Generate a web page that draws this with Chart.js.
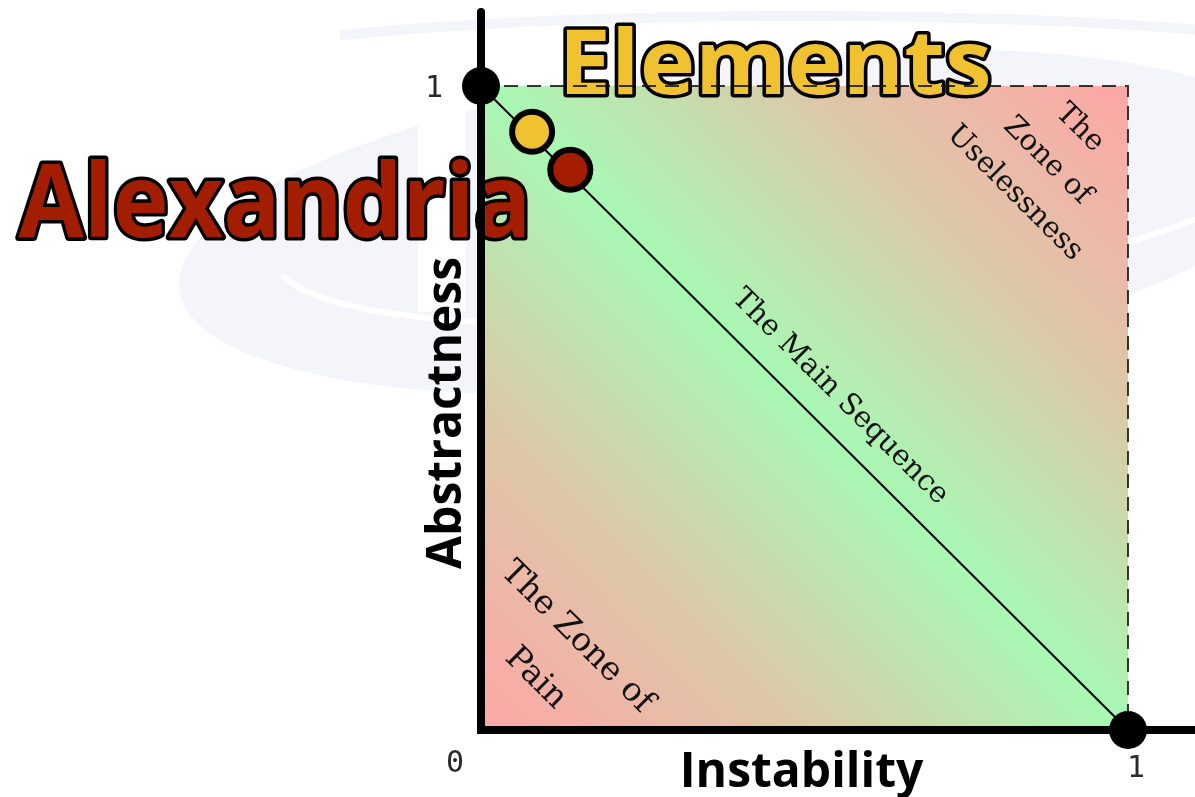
<!DOCTYPE html>
<html>
<head>
<meta charset="utf-8">
<script src="https://cdn.jsdelivr.net/npm/chart.js@4.4.1/dist/chart.umd.min.js"></script>
<style>
  html, body { margin: 0; padding: 0; background: #ffffff; }
  #wrap { width: 1195px; height: 797px; position: relative; }
</style>
</head>
<body>
<div id="wrap"><canvas id="c" width="1195" height="797"></canvas></div>
<script>
// ---- data ----
const categories = ['Elements', 'Alexandria'];
const instability = [0.079, 0.138];
const abstractness = [0.929, 0.870];
const pointColors = ['#f0c232', '#a31d00'];
const mainSequenceX = [0, 1];
const mainSequenceY = [1, 0];
const tickLabels = ['0', '1'];
const axisTitles = ['Instability', 'Abstractness'];
const zoneLabels = [
  { lines: ['The Main Sequence'], at: [0.555, 0.517] },
  { lines: ['The Zone of', 'Pain'], at: [0.116, 0.112] },
  { lines: ['The', 'Zone of', 'Uselessness'], at: [0.875, 0.884] }
];

const decor = {
  id: 'decor',
  beforeDatasetsDraw(chart) {
    const ctx = chart.ctx;
    const xs = chart.scales.x, ys = chart.scales.y;
    const x0 = xs.getPixelForValue(0), x1 = xs.getPixelForValue(1);
    const y0 = ys.getPixelForValue(0), y1 = ys.getPixelForValue(1);
    ctx.save();
    // faint watermark
    ctx.fillStyle = '#f4f5fa';
    ctx.beginPath();
    ctx.ellipse(740, 222, 565, 160, -0.12, 0, Math.PI * 2);
    ctx.fill();
    ctx.strokeStyle = '#ffffff';
    ctx.lineWidth = 6;
    ctx.beginPath();
    ctx.ellipse(790, 196, 520, 112, -0.12, Math.PI * 0.12, Math.PI * 0.95);
    ctx.stroke();
    ctx.strokeStyle = '#f4f5fa';
    ctx.lineWidth = 10;
    ctx.beginPath();
    ctx.ellipse(800, 82, 650, 66, 0, Math.PI * 1.25, Math.PI * 1.95);
    ctx.stroke();
    ctx.fillStyle = '#ffffff';
    ctx.fillRect(418, 112, 48, 200);

    // gradient background
    const g = ctx.createLinearGradient(x0, y0, x1, y1);
    g.addColorStop(0, '#ffa6a6');
    g.addColorStop(0.25, '#dcc8a8');
    g.addColorStop(0.5, '#a8f8b4');
    g.addColorStop(0.75, '#dcc8a8');
    g.addColorStop(1, '#ffa6a6');
    ctx.fillStyle = g;
    ctx.fillRect(x0, y1, x1 - x0, y0 - y1);

    // zone labels
    const ang = Math.atan2(y0 - y1, x1 - x0);
    ctx.fillStyle = '#111';
    ctx.textAlign = 'center';
    ctx.textBaseline = 'middle';
    const spacing = [0, 58, 46];
    const sizes = [29, 33, 29];
    zoneLabels.forEach((z, k) => {
      const cx = xs.getPixelForValue(z.at[0]), cy = ys.getPixelForValue(z.at[1]);
      ctx.save();
      ctx.font = sizes[k] + 'px "DejaVu Serif"';
      ctx.translate(cx, cy);
      ctx.rotate(ang);
      const n = z.lines.length;
      z.lines.forEach((t, i) => {
        ctx.fillText(t, 0, (i - (n - 1) / 2) * spacing[k]);
      });
      ctx.restore();
    });

    // big labels
    function bigText(txt, left, right, base, size, fill) {
      ctx.save();
      ctx.font = 'bold ' + size + 'px "Open Sans"';
      ctx.textAlign = 'left';
      ctx.textBaseline = 'alphabetic';
      const w = ctx.measureText(txt).width;
      const sx = (right - left - 7) / w;
      ctx.translate(left + 3.5, base);
      ctx.scale(sx, 1);
      ctx.lineJoin = 'round';
      ctx.lineWidth = 7;
      ctx.strokeStyle = '#000';
      ctx.strokeText(txt, 0, 0);
      ctx.fillStyle = fill;
      ctx.fillText(txt, 0, 0);
      ctx.restore();
    }
    bigText(categories[0], 555, 995, 94, 90, pointColors[0]);
    bigText(categories[1], 15, 535, 237, 102, pointColors[1]);

    // dashed bounds (drawn over the labels, as in the reference)
    ctx.strokeStyle = 'rgba(20,20,20,0.85)';
    ctx.lineWidth = 2;
    ctx.setLineDash([14, 9]);
    ctx.beginPath();
    ctx.moveTo(x0, y1); ctx.lineTo(x1, y1); ctx.lineTo(x1, y0);
    ctx.stroke();
    ctx.setLineDash([]);

    // axes
    ctx.strokeStyle = '#000';
    ctx.lineWidth = 8;
    ctx.lineCap = 'round';
    ctx.beginPath();
    ctx.moveTo(x0, 12); ctx.lineTo(x0, y0);
    ctx.stroke();
    ctx.lineCap = 'butt';
    ctx.beginPath();
    ctx.moveTo(x0 - 4, y0); ctx.lineTo(1195, y0);
    ctx.stroke();

    // tick labels
    ctx.fillStyle = '#2a2a2a';
    ctx.font = '30px "DejaVu Sans Mono"';
    ctx.textAlign = 'center';
    ctx.textBaseline = 'middle';
    ctx.fillText(tickLabels[1], x0 - 47, y1 + 3);
    ctx.fillText(tickLabels[0], x0 - 26, y0 + 34);
    ctx.fillText(tickLabels[1], x1 + 8, y0 + 39);

    // axis titles
    ctx.fillStyle = '#000';
    ctx.font = 'bold 48px "Open Sans"';
    ctx.textBaseline = 'alphabetic';
    ctx.fillText(axisTitles[0], (x0 + x1) / 2 - 3, 787);
    ctx.save();
    ctx.translate(461, (y0 + y1) / 2 + 5);
    ctx.rotate(-Math.PI / 2);
    ctx.fillText(axisTitles[1], 0, 0);
    ctx.restore();
    ctx.restore();
  }
};

new Chart(document.getElementById('c'), {
  type: 'scatter',
  data: {
    datasets: [
      {
        type: 'line',
        data: mainSequenceX.map((x, i) => ({ x, y: mainSequenceY[i] })),
        borderColor: '#000',
        borderWidth: 2,
        pointRadius: 0,
        fill: false,
        clip: false,
        order: 3
      },
      {
        data: mainSequenceX.map((x, i) => ({ x, y: mainSequenceY[i] })),
        backgroundColor: '#000',
        borderColor: '#000',
        pointRadius: 19,
        borderWidth: 0,
        clip: false,
        order: 2
      },
      {
        data: instability.map((x, i) => ({ x, y: abstractness[i] })),
        backgroundColor: pointColors,
        borderColor: '#000',
        borderWidth: 6,
        pointRadius: 20,
        clip: false,
        order: 1
      }
    ]
  },
  options: {
    responsive: false,
    animation: false,
    devicePixelRatio: 1,
    layout: { padding: { left: 481, right: 67, top: 86, bottom: 67 } },
    plugins: { legend: { display: false }, tooltip: { enabled: false } },
    scales: {
      x: { type: 'linear', min: 0, max: 1, display: false },
      y: { type: 'linear', min: 0, max: 1, display: false }
    }
  },
  plugins: [decor]
});
</script>
</body>
</html>
